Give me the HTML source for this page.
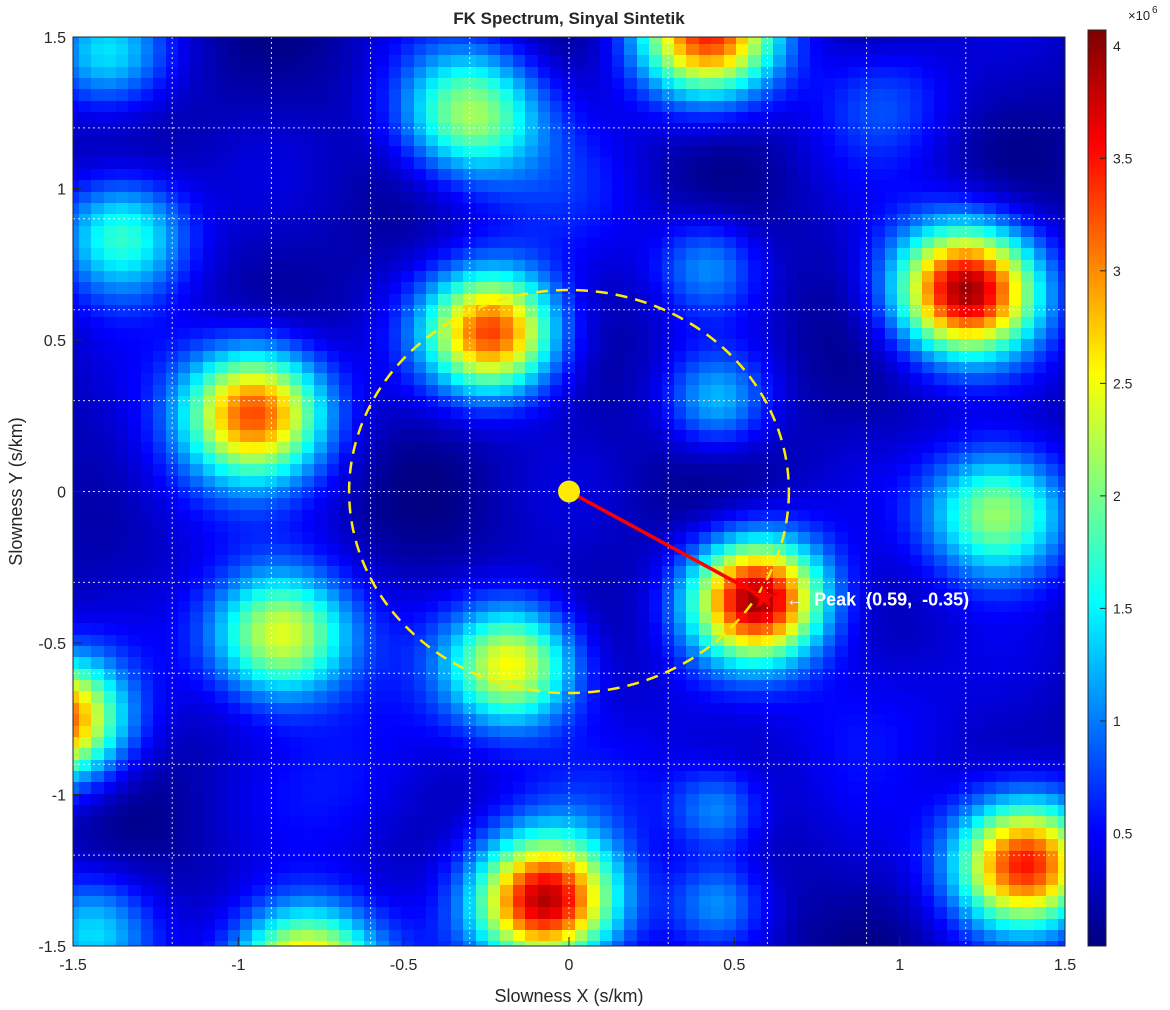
<!DOCTYPE html>
<html><head><meta charset="utf-8"><style>
body{margin:0;background:#fff;width:1170px;height:1010px;overflow:hidden;font-family:"Liberation Sans",sans-serif}
#wrap{position:relative;width:1170px;height:1010px}
canvas{position:absolute;image-rendering:pixelated}
svg{position:absolute;left:0;top:0}
</style></head><body>
<div id="wrap">
<canvas id="heat" width="992" height="909" style="left:73px;top:37px;width:992px;height:909px"></canvas>
<canvas id="cbar" width="18" height="916" style="left:1088px;top:30px;width:18px;height:916px"></canvas>
<svg id="ov" width="1170" height="1010"></svg>
</div>
<script>
// blob data (slowness x, slowness y, amplitude x1e6, width)
const blobX=[0.42,-0.30,-1.35,1.20,-0.23,-0.95,1.30,0.57,-0.87,-0.17,-1.55,-0.07,1.38,-0.80,0.45,0.42,0.45,0.45,-1.45,0.95,-1.40,0.00,-0.60,0.90,-1.20,0.20];
const blobY=[1.52,1.25,0.85,0.67,0.53,0.27,-0.07,-0.35,-0.47,-0.57,-0.75,-1.35,-1.22,-1.58,0.30,0.75,-1.05,-1.35,-1.45,1.30,1.45,0.95,-0.95,-0.70,0.05,-0.95];
const blobA=[3.1,2.0,1.6,3.7,3.1,3.0,2.1,3.7,2.4,2.4,3.1,3.7,3.4,2.9,1.0,0.8,0.9,0.8,1.1,0.6,1.1,0.3,0.4,0.4,0.3,0.3];
const blobS=[0.15,0.15,0.14,0.15,0.14,0.15,0.15,0.14,0.15,0.14,0.14,0.15,0.15,0.15,0.11,0.11,0.1,0.1,0.13,0.15,0.13,0.2,0.2,0.2,0.2,0.2];
const baseLevel=0.38;
const xTicks=[-1.5,-1,-0.5,0,0.5,1,1.5];
const yTicks=[-1.5,-1,-0.5,0,0.5,1,1.5];
const gridVals=[-1.2,-0.9,-0.6,-0.3,0,0.3,0.6,0.9,1.2];
const cbTicks=[0.5,1,1.5,2,2.5,3,3.5,4];
const peak=[0.59,-0.35];
const ringR=0.665;
const cMax=4.07;

const X=v=>73+(v+1.5)/3*992;
const Y=v=>946-(v+1.5)/3*909;
const CY=v=>946-v/cMax*916;
function jet(t){t=Math.max(0,Math.min(1,t));
 const r=Math.max(0,Math.min(1,1.5-Math.abs(4*t-3)));
 const g=Math.max(0,Math.min(1,1.5-Math.abs(4*t-2)));
 const b=Math.max(0,Math.min(1,1.5-Math.abs(4*t-1)));
 return `rgb(${r*255|0},${g*255|0},${b*255|0})`;}
const N=81,hc=document.getElementById('heat').getContext('2d');
for(let i=0;i<N;i++)for(let j=0;j<N;j++){
 const sx=-1.5+3*i/(N-1), sy=-1.5+3*j/(N-1);
 let v=baseLevel*(0.5+0.5*Math.cos(sx*7)*Math.cos(sy*6));
 for(let k=0;k<blobX.length;k++){const d2=(sx-blobX[k])**2+(sy-blobY[k])**2;v+=blobA[k]*Math.exp(-d2/(2*blobS[k]**2));}
 hc.fillStyle=jet(v/cMax);
 const x0=X(sx-1.5/(N-1))-73,x1=X(sx+1.5/(N-1))-73,y0=Y(sy+1.5/(N-1))-37,y1=Y(sy-1.5/(N-1))-37;
 hc.fillRect(Math.floor(x0),Math.floor(y0),Math.ceil(x1-x0)+1,Math.ceil(y1-y0)+1);}
const cc=document.getElementById('cbar').getContext('2d');
for(let y=0;y<916;y++){cc.fillStyle=jet(1-y/916);cc.fillRect(0,y,18,1);}
const ns='http://www.w3.org/2000/svg',ov=document.getElementById('ov');
function el(t,a,txt){const e=document.createElementNS(ns,t);for(const k in a)e.setAttribute(k,a[k]);if(txt!==undefined)e.textContent=txt;ov.appendChild(e);return e;}
gridVals.forEach(g=>{
 let e=el('line',{x1:X(g),x2:X(g),y1:37,y2:946,stroke:'#fff','stroke-width':1,'stroke-dasharray':'2,3',opacity:0.85});
 
 
 e=el('line',{x1:73,x2:1065,y1:Y(g),y2:Y(g),stroke:'#fff','stroke-width':1,'stroke-dasharray':'2,3',opacity:0.85});
 
 
});
let e=el('rect',{x:73,y:37,width:992,height:909,fill:'none',stroke:'#262626','stroke-width':1});


xTicks.forEach(t=>{
 el('line',{x1:X(t),x2:X(t),y1:946,y2:937,stroke:'#262626'});
 const l=el('text',{x:X(t),y:970,'font-size':16,'text-anchor':'middle',fill:'#262626'},String(t));
 
 
});
yTicks.forEach(t=>{
 el('line',{x1:73,x2:82,y1:Y(t),y2:Y(t),stroke:'#262626'});
 const l=el('text',{x:66,y:Y(t)+6,'font-size':16,'text-anchor':'end',fill:'#262626'},String(t));
 
 
});
e=el('rect',{x:1088,y:30,width:18,height:916,fill:'none',stroke:'#262626'});


cbTicks.forEach(t=>{
 el('line',{x1:1100,x2:1106,y1:CY(t),y2:CY(t),stroke:'#262626'});
 const l=el('text',{x:1113,y:CY(t)+5,'font-size':14,fill:'#262626'},String(t));
 
 
});
e=el('text',{x:1128,y:20,'font-size':13,fill:'#262626'},'×10');


el('text',{x:1152,y:13,'font-size':10,fill:'#262626'},'6');
e=el('text',{x:569,y:24,'font-size':17,'font-weight':'bold','text-anchor':'middle',fill:'#262626'},'FK Spectrum, Sinyal Sintetik');


e=el('text',{x:569,y:1002,'font-size':18,'text-anchor':'middle',fill:'#262626'},'Slowness X (s/km)');


e=el('text',{x:0,y:0,'font-size':18,'text-anchor':'middle',fill:'#262626',transform:`translate(22,${Y(0)}) rotate(-90)`},'Slowness Y (s/km)');


e=el('ellipse',{cx:X(0),cy:Y(0),rx:X(ringR)-X(0),ry:Y(0)-Y(ringR),fill:'none',stroke:'#ffeb00','stroke-width':2.5,'stroke-dasharray':'12,8'});


e=el('line',{x1:X(0),y1:Y(0),x2:X(peak[0]),y2:Y(peak[1]),stroke:'#ff0000','stroke-width':3.5});


e=el('circle',{cx:X(0),cy:Y(0),r:11,fill:'#ffeb00'});


const px=X(peak[0]),py=Y(peak[1]);
let pts=[];for(let k=0;k<10;k++){const r=k%2?5:13,a=-Math.PI/2+k*Math.PI/5;pts.push((px+r*Math.cos(a)).toFixed(1)+','+(py+r*Math.sin(a)).toFixed(1));}
e=el('polygon',{points:pts.join(' '),fill:'#ff0000',stroke:'#d00000'});


e=el('text',{x:px+22,y:py+8,'font-size':18,'font-weight':'bold',fill:'#fff',style:'white-space:pre'},`←  Peak  (${peak[0].toFixed(2)},  ${peak[1].toFixed(2)})`);


</script>
</body></html>
